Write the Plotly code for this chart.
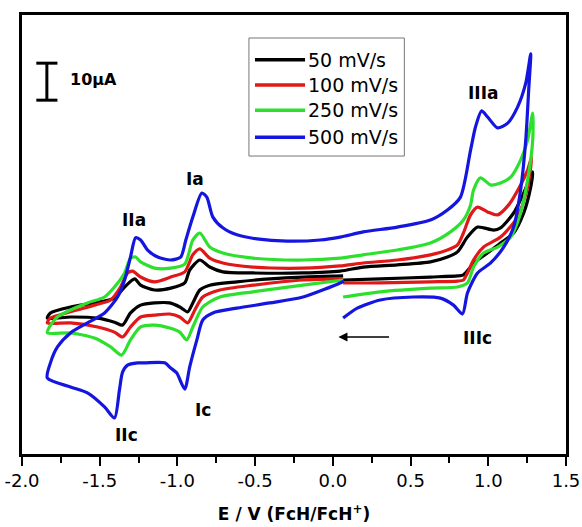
import plotly.graph_objects as go

# Cyclic voltammograms at four scan rates.
# Potential E (V vs FcH/FcH+) and current I (µA) along each sweep:
# start at +0.07 V, cathodic to -1.84 V, anodic to +1.28 V, back to +0.07 V.
scan_names = ["50 mV/s", "100 mV/s", "250 mV/s", "500 mV/s"]
scan_colors = ["#000000", "#e01818", "#2ee02e", "#1515e0"]

E_50 = [0.066, -0.192, -0.405, -0.617, -0.792, -0.856, -0.901, -0.934, -0.985, -1.050,
        -1.147, -1.237, -1.302, -1.353, -1.405, -1.514, -1.688, -1.837, -1.817, -1.688,
        -1.534, -1.405, -1.340, -1.275, -1.237, -1.147, -1.043, -0.953, -0.921, -0.856,
        -0.792, -0.708, -0.514, -0.192, 0.047, 0.195, 0.415, 0.628, 0.737, 0.802,
        0.866, 0.931, 0.970, 1.034, 1.079, 1.163, 1.228, 1.286, 1.273, 1.228,
        1.163, 1.079, 0.995, 0.931, 0.886, 0.840, 0.802, 0.628, 0.305, 0.066]
I_50 = [1.1, 0.8, 0.3, -0.5, -1.4, -2.7, -6.2, -8.6, -7.3, -6.2,
        -6.2, -6.8, -8.9, -12.2, -11.4, -10.3, -10.0, -10.3, -8.9, -7.3,
        -6.2, -4.9, -1.9, 0.3, -1.4, -2.7, -2.2, -0.8, 2.7, 5.4,
        3.5, 2.2, 1.9, 1.9, 2.4, 3.5, 4.1, 4.9, 6.2, 7.6,
        11.6, 14.3, 14.1, 13.5, 14.1, 18.1, 23.5, 29.2, 25.1, 18.1,
        12.7, 10.0, 7.3, 5.4, 3.5, 1.4, 1.1, 0.8, 0.3, 0.0]

E_100 = [0.066, -0.192, -0.514, -0.727, -0.837, -0.888, -0.934, -0.985, -1.050, -1.147,
         -1.237, -1.302, -1.353, -1.405, -1.514, -1.688, -1.837, -1.817, -1.688, -1.534,
         -1.430, -1.366, -1.321, -1.288, -1.237, -1.147, -1.043, -0.953, -0.901, -0.856,
         -0.792, -0.708, -0.514, -0.192, 0.047, 0.195, 0.415, 0.628, 0.737, 0.802,
         0.840, 0.886, 0.931, 0.995, 1.060, 1.131, 1.208, 1.253, 1.279, 1.253,
         1.189, 1.079, 0.970, 0.905, 0.866, 0.840, 0.802, 0.628, 0.305, 0.066]
I_100 = [0.3, 0.0, -1.4, -2.7, -4.6, -8.1, -11.6, -10.0, -9.2, -9.5,
         -10.0, -12.7, -15.4, -14.1, -12.7, -11.6, -11.6, -10.3, -8.6, -6.8,
         -5.4, -1.9, 1.9, 2.4, 0.8, -0.5, 0.8, 2.2, 6.8, 8.4,
         5.9, 4.6, 3.5, 3.2, 3.8, 4.6, 5.4, 6.8, 8.1, 9.5,
         12.7, 17.6, 19.7, 18.4, 17.6, 20.3, 25.7, 29.7, 33.2, 25.1,
         17.0, 11.6, 8.9, 5.4, 1.9, 0.0, -0.3, -0.5, -0.8, -0.8]

E_250 = [0.066, -0.192, -0.514, -0.727, -0.837, -0.901, -0.940, -0.985, -1.050, -1.147,
         -1.237, -1.302, -1.359, -1.430, -1.534, -1.688, -1.837, -1.824, -1.772, -1.688,
         -1.579, -1.469, -1.405, -1.340, -1.302, -1.269, -1.237, -1.147, -1.043, -0.953,
         -0.901, -0.856, -0.792, -0.708, -0.514, -0.192, 0.047, 0.195, 0.415, 0.628,
         0.757, 0.840, 0.886, 0.905, 0.950, 1.015, 1.079, 1.144, 1.208, 1.253,
         1.286, 1.286, 1.253, 1.208, 1.144, 1.060, 0.970, 0.905, 0.866, 0.802,
         0.628, 0.305, 0.066]
I_250 = [0.0, -1.4, -3.2, -4.6, -7.3, -12.7, -16.2, -14.1, -13.0, -12.2,
         -12.7, -16.2, -20.3, -18.1, -15.7, -14.3, -14.3, -12.7, -10.0, -8.1,
         -6.2, -4.6, -1.9, 1.9, 5.9, 6.2, 4.9, 3.2, 3.2, 4.3,
         10.8, 12.7, 8.9, 7.3, 5.9, 5.4, 5.9, 6.8, 8.1, 10.0,
         13.0, 16.2, 20.3, 24.3, 27.6, 25.7, 26.2, 27.8, 32.4, 37.8,
         45.1, 37.8, 27.0, 18.1, 11.6, 8.9, 7.3, 3.5, -0.8, -1.9,
         -2.2, -3.2, -4.6]

E_500 = [0.070, 0.047, -0.192, -0.405, -0.617, -0.772, -0.837, -0.875, -0.921, -0.953,
         -1.005, -1.043, -1.082, -1.211, -1.256, -1.321, -1.353, -1.373, -1.405, -1.469,
         -1.579, -1.688, -1.837, -1.817, -1.772, -1.688, -1.579, -1.469, -1.385, -1.340,
         -1.302, -1.269, -1.237, -1.192, -1.127, -1.043, -0.979, -0.946, -0.901, -0.843,
         -0.811, -0.772, -0.708, -0.617, -0.488, -0.295, -0.082, 0.047, 0.195, 0.415,
         0.628, 0.737, 0.821, 0.886, 0.918, 0.957, 0.995, 1.060, 1.125, 1.189,
         1.241, 1.273, 1.260, 1.241, 1.208, 1.163, 1.099, 1.015, 0.931, 0.866,
         0.834, 0.776, 0.692, 0.518, 0.305, 0.157, 0.066]
I_500 = [-0.3, -0.8, -4.6, -6.2, -7.6, -8.9, -10.8, -16.2, -23.5, -29.5,
         -25.1, -23.8, -22.4, -22.4, -22.4, -23.0, -24.9, -29.7, -37.3, -34.3,
         -30.5, -28.9, -26.5, -22.4, -18.1, -14.3, -11.6, -8.9, -4.6, 0.0,
         6.2, 11.4, 10.8, 8.1, 6.2, 5.4, 6.2, 10.8, 17.0, 23.5,
         22.4, 17.0, 14.1, 12.2, 11.1, 10.5, 10.8, 11.6, 13.0, 14.3,
         16.2, 18.9, 22.4, 35.1, 41.4, 45.7, 44.1, 41.1, 42.4, 46.8,
         53.2, 61.1, 51.4, 37.8, 24.3, 14.3, 8.9, 4.6, 1.9, -3.5,
         -9.2, -6.8, -4.9, -4.6, -5.4, -7.6, -10.3]

sweeps = [(E_50, I_50), (E_100, I_100), (E_250, I_250), (E_500, I_500)]

# Peak labels: (text, E, I)
peak_labels = [("IIa", -1.279, 16.2), ("Ia", -0.888, 27.3), ("Ic", -0.837, -35.1),
               ("IIc", -1.327, -41.9), ("IIIa", 0.963, 50.5), ("IIIc", 0.931, -15.7)]

x_ticks = [-2.0, -1.5, -1.0, -0.5, 0.0, 0.5, 1.0, 1.5]
x_minor = [-1.75, -1.25, -0.75, -0.25, 0.25, 0.75, 1.25]
x_ticktext = ["-2.0", "-1.5", "-1.0", "-0.5", "0.0", "0.5", "1.0", "1.5"]

scale_bar_uA = 10.0

FONT = "DejaVu Sans"

fig = go.Figure()
for (E, I), name, color in zip(sweeps, scan_names, scan_colors):
    fig.add_trace(go.Scatter(
        x=E, y=I, mode="lines", name=name,
        line=dict(color=color, width=3.2, shape="spline", smoothing=0.7),
        showlegend=False, hoverinfo="skip",
    ))

shapes = []
annotations = []

# Legend box in the upper middle of the plot
shapes.append(dict(type="rect", xref="x", yref="y", x0=-0.540, x1=0.460, y0=33.5, y1=65.4,
                   line=dict(color="#777777", width=1), fillcolor="white", layer="below"))
legend_rows = [59.5, 52.7, 45.9, 38.6]
for name, color, yr in zip(scan_names, scan_colors, legend_rows):
    shapes.append(dict(type="line", xref="x", yref="y", x0=-0.501, x1=-0.179, y0=yr, y1=yr,
                       line=dict(color=color, width=3.5)))
    annotations.append(dict(x=-0.170, y=yr, xref="x", yref="y", text=name, showarrow=False,
                            xanchor="left", yanchor="middle",
                            font=dict(family=FONT, size=19, color="black")))

# Current scale bar
bar_x, bar_y0 = -1.840, 48.6
cap = 0.068
shapes.append(dict(type="line", xref="x", yref="y", x0=bar_x, x1=bar_x,
                   y0=bar_y0, y1=bar_y0 + scale_bar_uA, line=dict(color="black", width=3)))
for yy in (bar_y0, bar_y0 + scale_bar_uA):
    shapes.append(dict(type="line", xref="x", yref="y", x0=bar_x - cap, x1=bar_x + cap,
                       y0=yy, y1=yy, line=dict(color="black", width=3)))
annotations.append(dict(x=-1.705, y=bar_y0 + scale_bar_uA / 2 + 0.6, xref="x", yref="y",
                        text="<b>%gµA</b>" % scale_bar_uA, showarrow=False,
                        xanchor="left", yanchor="middle",
                        font=dict(family=FONT, size=16, color="black")))

# Peak labels
for txt, ex, iy in peak_labels:
    annotations.append(dict(x=ex, y=iy, xref="x", yref="y", text="<b>%s</b>" % txt,
                            showarrow=False, xanchor="center", yanchor="middle",
                            font=dict(family=FONT, size=17, color="black")))

# Initial sweep direction arrow
annotations.append(dict(x=0.036, y=-15.4, ax=0.371, ay=-15.4, xref="x", yref="y",
                        axref="x", ayref="y", text="", showarrow=True,
                        arrowhead=2, arrowsize=1.2, arrowwidth=1.5, arrowcolor="black"))

fig.update_layout(
    width=582, height=527,
    margin=dict(l=22, r=16, t=15, b=73, autoexpand=False),
    plot_bgcolor="white", paper_bgcolor="white",
    showlegend=False,
    shapes=shapes, annotations=annotations,
    xaxis=dict(
        range=[-2.0, 1.5], tickvals=x_ticks, ticktext=x_ticktext,
        ticks="outside", ticklen=9, tickwidth=2, tickcolor="black",
        minor=dict(tickvals=x_minor, ticks="outside", ticklen=6, tickwidth=2,
                   tickcolor="black", showgrid=False),
        showline=True, linewidth=2.5, linecolor="black", mirror=True,
        showgrid=False, zeroline=False, automargin=False,
        tickfont=dict(family=FONT, size=18, color="black"),
        title=dict(text="<b>E / V (FcH/FcH<sup>+</sup>)</b>", standoff=18,
                   font=dict(family=FONT, size=17, color="black")),
    ),
    yaxis=dict(
        range=[-47.03, 71.62], showticklabels=False, ticks="",
        showline=True, linewidth=2.5, linecolor="black", mirror=True,
        showgrid=False, zeroline=False, automargin=False,
    ),
)

fig.write_html("out.html")
